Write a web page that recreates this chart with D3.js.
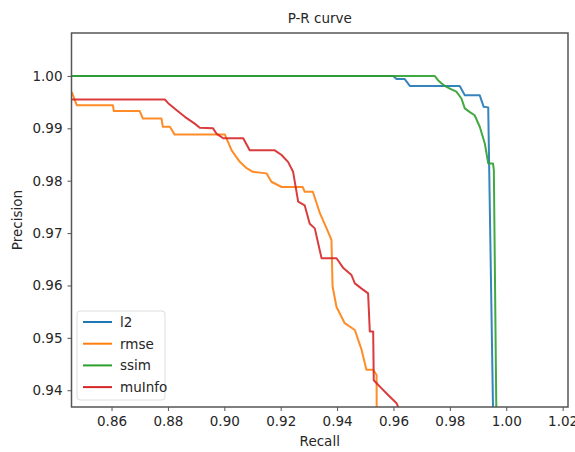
<!DOCTYPE html>
<html>
<head>
<meta charset="utf-8">
<script src="https://cdn.jsdelivr.net/npm/d3@7"></script>
<style>
  html, body { margin: 0; padding: 0; background: #fff; }
  svg text { font-family: "DejaVu Sans", sans-serif; fill: #262626; }
</style>
</head>
<body>
<svg id="chart" width="575" height="452"></svg>
<script>
/* ============================================================
   DATA ([recall, precision])
============================================================ */
const seriesNames = ["l2", "rmse", "ssim", "muInfo"];
const seriesColors = ["#1f77b4", "#ff7f0e", "#2ca02c", "#d62728"];

const l2 = [
  [0.8400, 1.0000], [0.9599, 1.0000], [0.9611, 0.9994], [0.9640, 0.9994],
  [0.9658, 0.9981], [0.9835, 0.9981], [0.9853, 0.9963], [0.9906, 0.9963],
  [0.9920, 0.9941], [0.9936, 0.9940], [0.9955, 0.9300]
];

const rmse = [
  [0.8459, 0.9969], [0.8477, 0.9944], [0.8605, 0.9944], [0.8608, 0.9933],
  [0.8700, 0.9933], [0.8711, 0.9919], [0.8777, 0.9919], [0.8782, 0.9903],
  [0.8807, 0.9903], [0.8824, 0.9888], [0.9002, 0.9888], [0.9026, 0.9858],
  [0.9055, 0.9836], [0.9079, 0.9824], [0.9101, 0.9817], [0.9150, 0.9814],
  [0.9167, 0.9798], [0.9203, 0.9788], [0.9278, 0.9788], [0.9285, 0.9779],
  [0.9314, 0.9779], [0.9339, 0.9738], [0.9362, 0.9710], [0.9380, 0.9687],
  [0.9384, 0.9598], [0.9398, 0.9559], [0.9427, 0.9528], [0.9463, 0.9515],
  [0.9487, 0.9477], [0.9504, 0.9439], [0.9528, 0.9439], [0.9540, 0.9429],
  [0.9541, 0.9300]
];

const ssim = [
  [0.8400, 1.0000], [0.9746, 1.0000], [0.9758, 0.9992], [0.9770, 0.9986],
  [0.9785, 0.9980], [0.9800, 0.9976], [0.9823, 0.9970], [0.9841, 0.9957],
  [0.9853, 0.9938], [0.9871, 0.9931], [0.9888, 0.9925], [0.9906, 0.9903],
  [0.9924, 0.9871], [0.9936, 0.9833], [0.9953, 0.9833], [0.9956, 0.9820],
  [0.9966, 0.9300]
];

const muInfo = [
  [0.8400, 0.9955], [0.8789, 0.9955], [0.8801, 0.9948], [0.8830, 0.9935],
  [0.8860, 0.9922], [0.8895, 0.9909], [0.8913, 0.9901], [0.8960, 0.9900],
  [0.8972, 0.9890], [0.8996, 0.9881], [0.9067, 0.9881], [0.9090, 0.9858],
  [0.9179, 0.9858], [0.9203, 0.9849], [0.9226, 0.9836], [0.9244, 0.9817],
  [0.9262, 0.9760], [0.9285, 0.9753], [0.9303, 0.9718], [0.9321, 0.9709],
  [0.9333, 0.9680], [0.9345, 0.9652], [0.9398, 0.9652], [0.9421, 0.9634],
  [0.9451, 0.9620], [0.9463, 0.9604], [0.9487, 0.9594], [0.9510, 0.9585],
  [0.9516, 0.9512], [0.9528, 0.9512], [0.9530, 0.9419], [0.9557, 0.9404],
  [0.9581, 0.9391], [0.9611, 0.9375], [0.9640, 0.9340]
];

const seriesData = [l2, rmse, ssim, muInfo];

const xTicks = [0.86, 0.88, 0.90, 0.92, 0.94, 0.96, 0.98, 1.00, 1.02];
const yTicks = [0.94, 0.95, 0.96, 0.97, 0.98, 0.99, 1.00];
const xDomain = [0.8458, 1.0219];
const yDomain = [0.9368, 1.0082];

/* ============================================================
   LAYOUT
============================================================ */
const svg = d3.select("#chart");
const plotLeft = 71.5, plotRight = 568, plotTop = 33, plotBottom = 407;
const fontSize = "13.5px";

const x = d3.scaleLinear().domain(xDomain).range([plotLeft, plotRight]);
const y = d3.scaleLinear().domain(yDomain).range([plotBottom, plotTop]);

svg.append("defs").append("clipPath").attr("id", "plotClip")
  .append("rect")
  .attr("x", plotLeft).attr("y", plotTop)
  .attr("width", plotRight - plotLeft).attr("height", plotBottom - plotTop);

/* ============================================================
   LINES
============================================================ */
const line = d3.line().x(d => x(d[0])).y(d => y(d[1]));

const plot = svg.append("g").attr("clip-path", "url(#plotClip)");
seriesData.forEach((pts, i) => {
  plot.append("path")
    .attr("d", line(pts))
    .attr("fill", "none")
    .attr("stroke", seriesColors[i])
    .attr("stroke-width", 2)
    .attr("stroke-linejoin", "round")
    .attr("stroke-opacity", 0.9);
});

/* ============================================================
   AXES + FRAME
============================================================ */
const xAxis = svg.append("g")
  .attr("transform", `translate(0,${plotBottom})`)
  .call(d3.axisBottom(x).tickValues(xTicks).tickFormat(d3.format(".2f")).tickSize(4).tickPadding(5));

const yAxis = svg.append("g")
  .attr("transform", `translate(${plotLeft},0)`)
  .call(d3.axisLeft(y).tickValues(yTicks).tickFormat(d3.format(".2f")).tickSize(4).tickPadding(5));

[xAxis, yAxis].forEach(g => {
  g.select(".domain").remove();
  g.selectAll("line").attr("stroke", "#555");
  g.selectAll("text").attr("font-size", fontSize).attr("fill", "#333");
});

svg.append("rect")
  .attr("x", plotLeft).attr("y", plotTop)
  .attr("width", plotRight - plotLeft).attr("height", plotBottom - plotTop)
  .attr("fill", "none")
  .attr("stroke", "#555")
  .attr("stroke-width", 1.5);

/* ============================================================
   LABELS
============================================================ */
svg.append("text")
  .attr("x", (plotLeft + plotRight) / 2).attr("y", 23)
  .attr("text-anchor", "middle")
  .attr("font-size", fontSize)
  .text("P-R curve");

svg.append("text")
  .attr("x", (plotLeft + plotRight) / 2).attr("y", 446)
  .attr("text-anchor", "middle")
  .attr("font-size", fontSize)
  .text("Recall");

svg.append("text")
  .attr("transform", `translate(22,${(plotTop + plotBottom) / 2}) rotate(-90)`)
  .attr("text-anchor", "middle")
  .attr("font-size", fontSize)
  .text("Precision");

/* ============================================================
   LEGEND
============================================================ */
const legend = svg.append("g");
legend.append("rect")
  .attr("x", 77).attr("y", 311)
  .attr("width", 88).attr("height", 89)
  .attr("rx", 3)
  .attr("fill", "#fff")
  .attr("fill-opacity", 0.8)
  .attr("stroke", "#ddd");

seriesNames.forEach((name, i) => {
  const ly = 322 + i * 21.7;
  legend.append("line")
    .attr("x1", 83).attr("x2", 112)
    .attr("y1", ly).attr("y2", ly)
    .attr("stroke", seriesColors[i])
    .attr("stroke-width", 2);
  legend.append("text")
    .attr("x", 120).attr("y", ly + 5)
    .attr("font-size", fontSize)
    .text(name);
});
</script>
</body>
</html>
